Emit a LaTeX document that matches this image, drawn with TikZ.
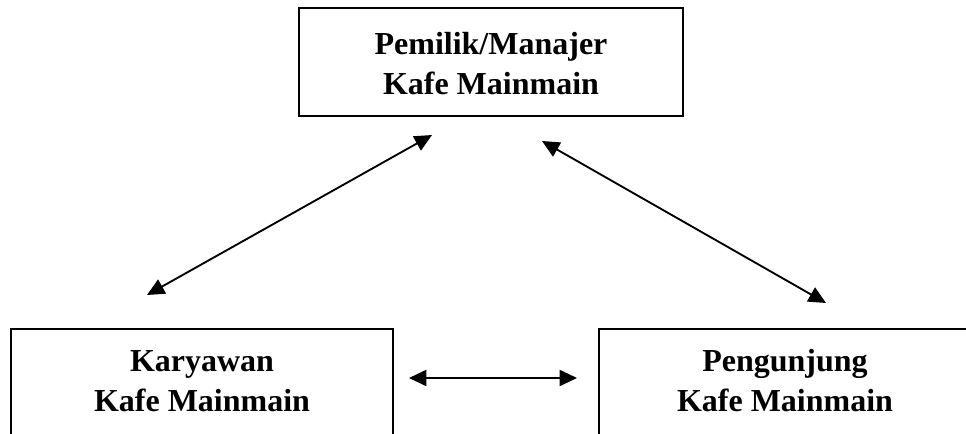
\documentclass[tikz,border=0pt]{standalone}
\usepackage{fontspec}
\setmainfont{Liberation Serif}
\usetikzlibrary{arrows.meta}
\begin{document}
\begin{tikzpicture}[x=0.75pt,y=-0.75pt,
  lbl/.style={align=center,font=\bfseries\fontsize{24}{30}\selectfont,inner sep=0pt},
  boxline/.style={line width=1.4pt},
  rel/.style={line width=1.4pt,{Triangle[length=13pt,width=12pt]}-{Triangle[length=13pt,width=12pt]}}]
\useasboundingbox (0,0) rectangle (966,434);
\clip (0,0) rectangle (966,434);
% top box
\node[draw,boxline,minimum width=384*0.75pt,minimum height=108*0.75pt,inner sep=0pt] (pm) at (491,62) {};
\node[lbl] (pmt) at (491,64) {Pemilik/Manajer\\Kafe Mainmain};
% bottom boxes (open at the bottom, cut off)
\node[lbl] (kar) at (202,381) {Karyawan\\Kafe Mainmain};
\node[lbl] (pen) at (785,381) {Pengunjung\\Kafe Mainmain};
\draw[boxline] (11,440) -- (11,329) -- (393,329) -- (393,440);
\draw[boxline] (599,440) -- (599,329) -- (975,329) -- (975,440);
% connector ends
\coordinate (a1) at (432,135);
\coordinate (a2) at (147,295);
\coordinate (b1) at (542,141);
\coordinate (b2) at (826,303);
\coordinate (c1) at (409,378);
\coordinate (c2) at (577,378);
\draw[rel] (a2) -- (a1);
\draw[rel] (b1) -- (b2);
\draw[rel] (c1) -- (c2);
\end{tikzpicture}
\end{document}
